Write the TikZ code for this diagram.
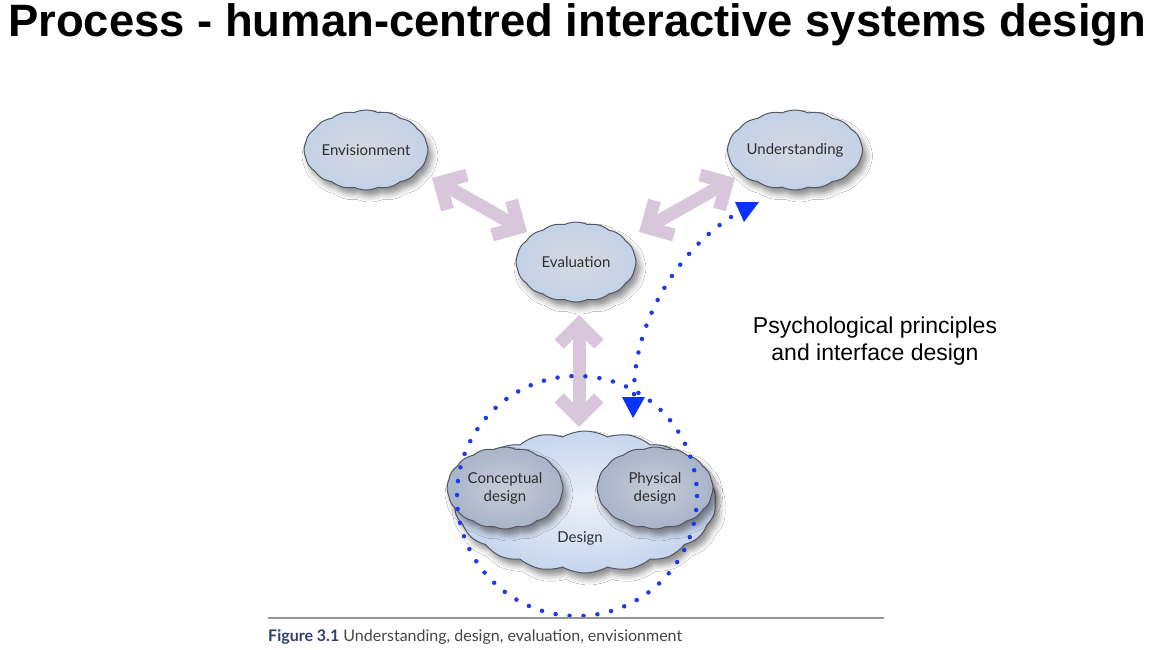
\documentclass[tikz,border=0pt]{standalone}
\usepackage{fontspec}
\setmainfont{Liberation Sans}
\newfontfamily\cloudfont{Lato}
\newfontfamily\capfont{Lato}
\usetikzlibrary{shapes.symbols,shadows.blur,arrows.meta,calc}
\definecolor{lav}{RGB}{216,198,218}
\definecolor{dotblue}{RGB}{28,58,235}
\definecolor{triblue}{RGB}{10,50,250}
\definecolor{cloudline}{RGB}{85,88,95}
\definecolor{cloudtext}{RGB}{45,45,50}
\definecolor{cin}{RGB}{214,216,224}
\definecolor{cout}{RGB}{196,210,232}
\definecolor{din}{RGB}{236,240,248}
\definecolor{dout}{RGB}{198,214,238}
\definecolor{iin}{RGB}{200,204,214}
\definecolor{iout}{RGB}{168,180,202}
\definecolor{capblue}{RGB}{52,62,110}
\definecolor{capgrey}{RGB}{70,70,72}
\definecolor{rule}{RGB}{150,150,150}
\tikzset{
  cloudbox/.style={cloud, cloud puffs=16, cloud puff arc=50, cloud ignores aspect,
    draw=cloudline, line width=1pt, inner color=cin, outer color=cout,
    minimum width=122pt, minimum height=80pt, inner sep=0pt,
    blur shadow={shadow xshift=4pt, shadow yshift=-6pt, shadow blur radius=6pt, shadow opacity=45},
    font=\cloudfont\fontsize{15}{18}\selectfont, text=cloudtext, align=center},
  bigcloud/.style={cloud puffs=18, cloud puff arc=60, inner color=din, outer color=dout, minimum width=262pt, minimum height=142pt},
  innercloud/.style={inner color=iin, outer color=iout, minimum width=116pt, minimum height=82pt},
  lavarrow/.style={draw=lav, line width=13pt,
    {Straight Barb[angle=90:28pt,line width=13pt]}-{Straight Barb[angle=90:28pt,line width=13pt]}},
  dotline/.style={draw=dotblue, line width=4.5pt, line cap=round, dash pattern=on 0pt off 14pt},
  tri/.style={fill=triblue},
}
\begin{document}
\begin{tikzpicture}[x=1pt,y=-1pt]
\useasboundingbox (0,0) rectangle (1154,650);
\fill[white] (0,0) rectangle (1154,650);
\node[anchor=west, inner sep=0pt] (title) at (8,25) {\resizebox{1138pt}{!}{\bfseries Process - human-centred interactive systems design}};

\node[cloudbox] (env) at (366,150) {Envisionment};
\node[cloudbox] (und) at (795,150) {Understanding\vphantom{E}};
\node[cloudbox, minimum width=120pt] (eval) at (576,262) {Evaluation};
\node[cloudbox, bigcloud] (design) at (585,502) {};
\node[font=\cloudfont\fontsize{15}{18}\selectfont, text=cloudtext] (designlbl) at (580,538) {Design};
\node[cloudbox, innercloud] (concept) at (505,488) {Conceptual\\design};
\node[cloudbox, innercloud] (phys) at (655,488) {Physical\\design};

\draw[lavarrow] ($(env)+(66,28)$) -- ($(eval)+(-49,-30)$);
\draw[lavarrow] ($(und)+(-60,28)$) -- ($(eval)+(63,-30)$);
\draw[lavarrow] ($(eval)+(3,53)$) -- ($(design)+(-6,-75)$);

\coordinate (ring) at ($(design)+(-8,-6)$);
\draw[dotline] (ring) circle[radius=120];

\coordinate (cs) at ($(und)+(-64,67)$);
\coordinate (ce) at ($(design)+(49,-107)$);
\draw[dotline] (cs) .. controls +(-51,33) and +(-1,-75) .. (ce);
\fill[tri] ($(cs)+(4,-15)$) -- ($(cs)+(28,-15)$) -- ($(cs)+(13,5)$) -- cycle;
\fill[tri] ($(ce)+(-12,2)$) -- ($(ce)+(11,2)$) -- ($(ce)+(-1,23)$) -- cycle;

\node[font=\fontsize{23}{27}\selectfont, align=center] (psy) at (875,341) {Psychological principles\\and interface design};

\coordinate (rl) at (268,618);
\coordinate (rr) at (884,618);
\draw[rule, line width=1.8pt] (rl) -- (rr);
\node[anchor=west, inner sep=0pt] (cap) at (268,637) {\resizebox{414pt}{!}{\capfont\textcolor{capblue}{\bfseries Figure 3.1} \textcolor{capgrey}{Understanding, design, evaluation, envisionment}}};
\end{tikzpicture}
\end{document}
